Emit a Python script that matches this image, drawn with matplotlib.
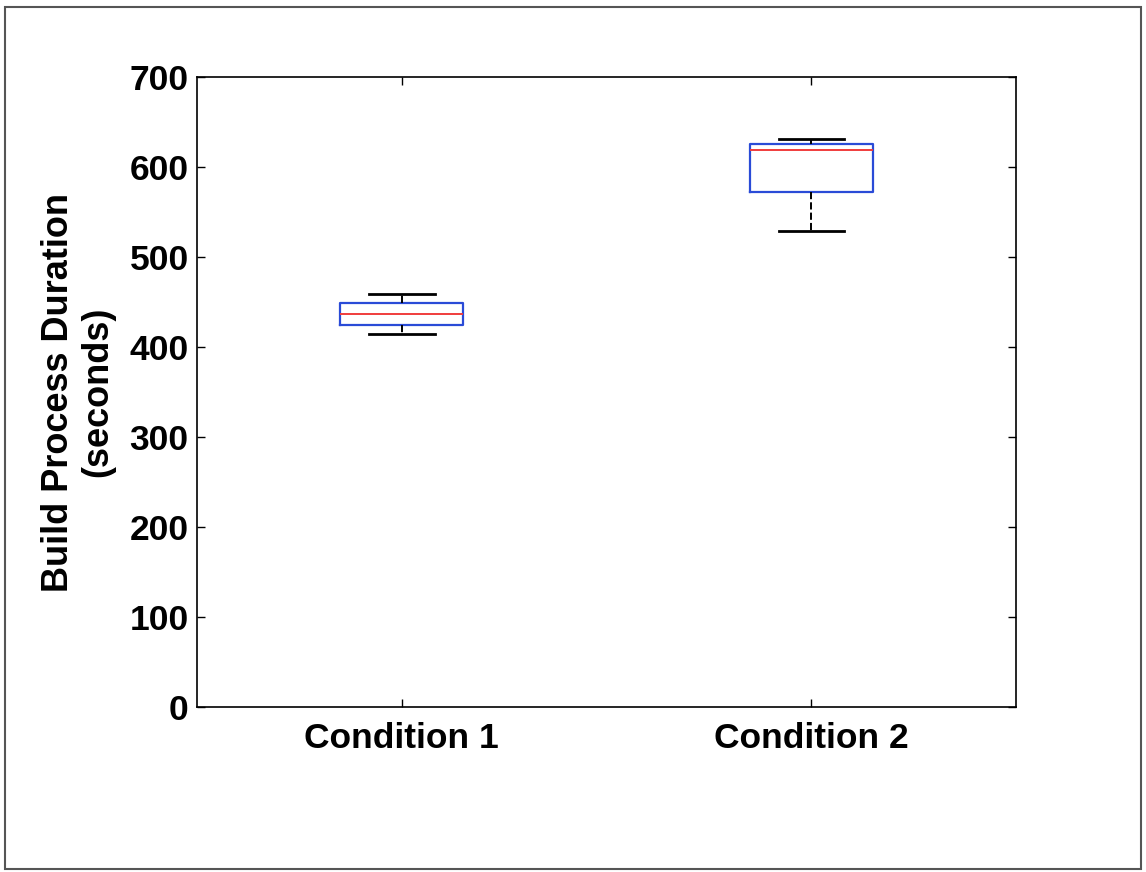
import matplotlib.pyplot as plt
from matplotlib.patches import Rectangle

plt.rcParams['font.family'] = ['Liberation Sans', 'DejaVu Sans']

# data (seconds)
conditions = ["Condition 1", "Condition 2"]
whisker_low = [414, 529]
q1 = [425, 572]
medians = [437, 619]
q3 = [449, 625]
whisker_high = [459, 631]

stats = []
for i, name in enumerate(conditions):
    stats.append({
        "label": name,
        "whislo": whisker_low[i],
        "q1": q1[i],
        "med": medians[i],
        "q3": q3[i],
        "whishi": whisker_high[i],
        "fliers": [],
    })

fig = plt.figure(figsize=(11.46, 8.72), dpi=100)
ax = fig.add_axes([0.1719, 0.1892, 0.7147, 0.7225])

ax.bxp(stats, positions=[1, 2], widths=0.3, showfliers=False,
       boxprops=dict(color="#2a4bd7", linewidth=1.6),
       medianprops=dict(color="#f03c3c", linewidth=1.4),
       whiskerprops=dict(color="black", linewidth=1.4, linestyle="--"),
       capprops=dict(color="black", linewidth=2.0),
       capwidths=0.16)

ax.set_xlim(0.5, 2.5)
ax.set_ylim(0, 700)
ax.set_yticks(range(0, 701, 100))
ax.set_xticks([1, 2])
ax.set_xticklabels(conditions)

ax.tick_params(direction="in", top=True, right=True, length=6, width=1,
               labelsize=25.5)
ax.tick_params(axis="y", pad=6)
ax.tick_params(axis="x", pad=11)
for lab in ax.get_xticklabels() + ax.get_yticklabels():
    lab.set_fontweight("bold")
for s in ax.spines.values():
    s.set_linewidth(1.2)

ax.set_ylabel("Build Process Duration\n(seconds)", fontsize=26,
              fontweight="bold", labelpad=10, linespacing=1.15)

# outer frame around the figure
fig.patches.append(Rectangle((0.004, 0.004), 0.992, 0.988, transform=fig.transFigure,
                             fill=False, edgecolor="#555555", linewidth=1.5))

fig.savefig("out.png", dpi=100)
